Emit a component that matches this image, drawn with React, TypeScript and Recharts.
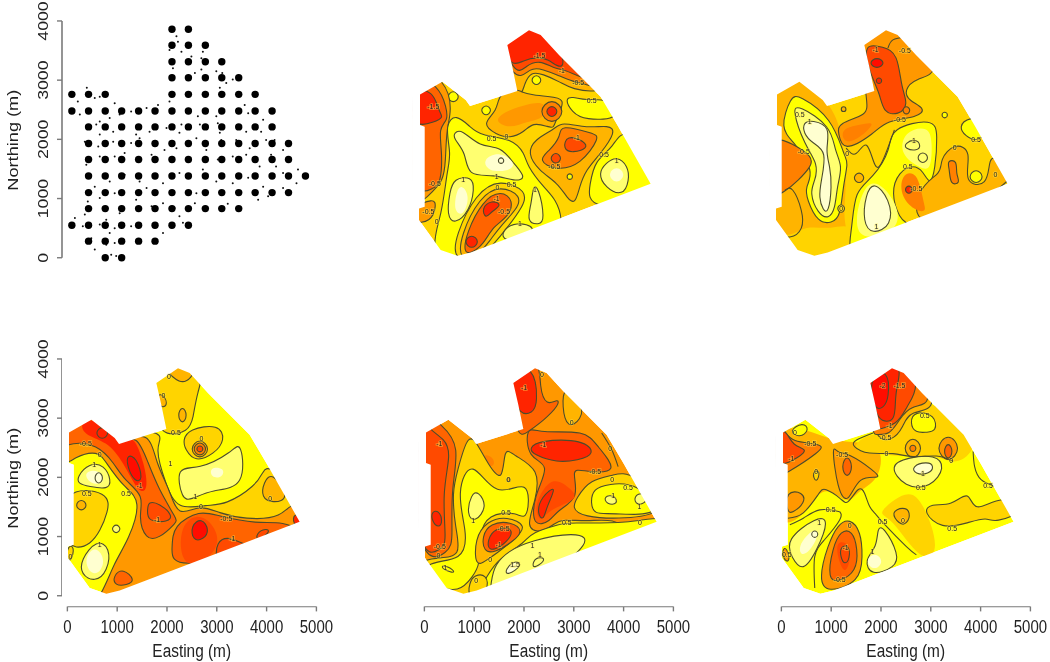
import { ScatterChart, Scatter, XAxis, YAxis, ReferenceLine } from 'recharts'

type Pt = [number, number]
type Band = [number, number, Pt[]]
type Note = [number, number, string]

const eastTicks = [0, 1000, 2000, 3000, 4000, 5000]
const northTicks = [0, 1000, 2000, 3000, 4000]

// colour of the surface per predicted level
const heat: Record<string, string> = {
  '-2': '#ff0c00',
  '-1.5': '#ff2400',
  '-1': '#ff4a00',
  '-0.75': '#ff6400',
  '-0.5': '#ff8000',
  '-0.25': '#ff9800',
  '0': '#ffb400',
  '0.25': '#ffd400',
  '0.5': '#ffff00',
  '1': '#ffff70',
  '1.5': '#ffffd0',
}

const siteRows: [number, number[]][] = [
  [3860, [2100, 2430]],
  [3590, [2100, 2430, 2770]],
  [3310, [2100, 2430, 2770, 3100]],
  [3040, [2100, 2430, 2770, 3100, 3440]],
  [2760, [90, 425, 760, 2100, 2430, 2770, 3100, 3440, 3770]],
  [2480, [90, 425, 760, 1090, 1430, 1760, 2100, 2430, 2770, 3100, 3440, 3770, 4110]],
  [2210, [425, 760, 1090, 1430, 1760, 2100, 2430, 2770, 3100, 3440, 3770, 4110]],
  [1930, [425, 760, 1090, 1430, 1760, 2100, 2430, 2770, 3100, 3440, 3770, 4110, 4440]],
  [1660, [425, 760, 1090, 1430, 1760, 2100, 2430, 2770, 3100, 3440, 3770, 4110, 4440]],
  [1380, [425, 760, 1090, 1430, 1760, 2100, 2430, 2770, 3100, 3440, 3770, 4110, 4440, 4780]],
  [1100, [425, 760, 1090, 1430, 1760, 2100, 2430, 2770, 3100, 3440, 3770, 4110, 4440]],
  [830, [425, 760, 1090, 1430, 1760, 2100, 2430, 2770, 3100, 3440]],
  [550, [90, 425, 760, 1090, 1430, 1760, 2100, 2430]],
  [280, [425, 760, 1090, 1430, 1760]],
  [0, [760, 1090]],
]

const transectPoints: Pt[] = [
  [2190, 3740], [2220, 3650], [2290, 3480], [2050, 3510], [2490, 3400], [2390, 3290], [2720, 3480], [2690, 3370],
  [2120, 3200], [2560, 3120], [2690, 3180], [2990, 3150], [3110, 3120], [3190, 2950], [3060, 2870], [3320, 3010],
  [210, 2640], [390, 2870], [550, 2700], [650, 2720], [950, 2610], [780, 2500], [250, 2420], [650, 2300],
  [850, 2360], [1050, 2420], [1280, 2470], [1590, 2530], [1820, 2580], [2050, 2640], [580, 2250], [650, 2080],
  [920, 2130], [1380, 2080], [1650, 2130], [1990, 2190], [2290, 2250], [2620, 2390], [2660, 2250], [2990, 2390],
  [3020, 2270], [3560, 2580], [3630, 2440], [3930, 2330], [3890, 2130], [3590, 2130], [350, 1960], [620, 1880],
  [920, 1960], [1280, 1940], [1450, 2020], [2250, 2110], [2590, 2020], [3060, 2110], [3090, 1990], [3390, 1990],
  [3660, 1850], [3990, 1990], [4160, 1990], [4330, 1820], [4090, 1740], [380, 1570], [650, 1710], [950, 1710],
  [1150, 1770], [1690, 1740], [1950, 1820], [2190, 1850], [2790, 1820], [3020, 1660], [3320, 1710], [3590, 1740],
  [3860, 1540], [4190, 1540], [4630, 1490], [4330, 1430], [550, 1200], [850, 1290], [1150, 1400], [1450, 1290],
  [1790, 1400], [2250, 1430], [2720, 1490], [2990, 1290], [3320, 1260], [3630, 1350], [3930, 1200], [3830, 980],
  [4030, 1040], [4330, 1180], [4600, 1260], [4830, 1370], [410, 950], [650, 1010], [950, 1090], [1380, 980],
  [1590, 1180], [1920, 1260], [2590, 1090], [2560, 920], [3220, 910], [2250, 700], [150, 670], [350, 730],
  [780, 640], [1050, 750], [1690, 870], [1920, 920], [2150, 840], [310, 530], [650, 560], [950, 500],
  [1280, 530], [1790, 530], [1920, 420], [2320, 590], [480, 330], [850, 420], [550, 140], [780, 220],
  [950, 250], [1380, 280], [880, 50], [980, 30],
]

const surveyFrame: Pt[] = [[-108, -180], [5100, -180], [5100, 4050], [-108, 4050]]

const surveyOutline: Pt[] = [
  [13, 636], [13, 833], [127, 861], [127, 2213], [33, 2241], [33, 2759], [482, 2973], [950, 2663], [1037, 2562],
  [1987, 2815], [1886, 3226], [1786, 3592], [2221, 3845], [2455, 3761], [2823, 3423], [3659, 2719], [3994, 2241],
  [4663, 1250], [1050, 90], [783, 34], [448, 129],
]

const p2Bands: Band[] = [
  [0, 1, [[1640, 3900], [2780, 3900], [3650, 3060], [3580, 2830], [3110, 2860], [2840, 2970], [2510, 3090], [2270, 3110], [2140, 2940], [2070, 2800], [1900, 2800]]],
  [-0.5, 1, [[1640, 3900], [2780, 3900], [3650, 2940], [3380, 2940], [3110, 2980], [2780, 3090], [2510, 3170], [2240, 3200], [1940, 3060]]],
  [-1, 1, [[1710, 3900], [2710, 3900], [3380, 3110], [3180, 3090], [2940, 3170], [2710, 3210], [2440, 3310], [2170, 3250], [1940, 3170]]],
  [-1.5, 1, [[1770, 3900], [2580, 3900], [2910, 3310], [2780, 3250], [2610, 3340], [2370, 3380], [2110, 3330], [1910, 3280], [1710, 3510]]],
  [0.5, 1, [[2980, 2660], [3110, 2710], [3380, 2660], [3780, 2660], [3980, 2380], [3380, 2350], [3110, 2470]]],
  [0, 1, [[1640, 2750], [1970, 2830], [2070, 2800], [2310, 2750], [2580, 2720], [2910, 2660], [2780, 2380], [2710, 2210], [2580, 2220], [2310, 2260], [2110, 2130], [1840, 2040], [1570, 2100], [1340, 2270], [1570, 2490]]],
  [-0.25, 0, [[1570, 2330], [1840, 2490], [2170, 2580], [2510, 2610], [2510, 2380], [2170, 2300], [1840, 2210]]],
  [-0.5, 1, [[2380, 2470], [2680, 2720], [2980, 2470], [2680, 2220]]],
  [-1.5, 1, [[2530, 2470], [2680, 2595], [2830, 2470], [2680, 2345]]],
  [0.5, 1, [[550, 2720], [700, 2845], [850, 2720], [700, 2595]]],
  [0.5, 1, [[1230, 2490], [1360, 2600], [1490, 2490], [1360, 2380]]],
  [0.5, 1, [[2240, 3000], [2370, 3110], [2500, 3000], [2370, 2890]]],
  [-0.25, 1, [[-100, 3000], [500, 2940], [640, 2490], [570, 2160], [540, 1650], [470, 1310], [200, 1090], [-100, 1090]]],
  [-0.75, 1, [[-100, 2880], [370, 2860], [540, 2550], [570, 2330], [430, 2160], [470, 1760], [430, 1310], [270, 1200], [-100, 1260]]],
  [-1.5, 1, [[-100, 2780], [270, 2780], [400, 2490], [470, 2380], [300, 2300], [-100, 2270]]],
  [-0.25, 1, [[-100, 830], [270, 970], [330, 860], [230, 640], [-100, 610]]],
  [0, 1, [[2710, 2160], [2910, 2270], [3380, 2200], [3780, 2220], [3910, 2100], [3650, 1760], [3380, 1480], [3240, 1200], [3140, 950], [2980, 1030], [2780, 1260], [2440, 1480], [2240, 1760], [2370, 1990]]],
  [-0.5, 1, [[2910, 2210], [3450, 2100], [3580, 2000], [3240, 1610], [2780, 1510], [2470, 1650], [2640, 1820], [2840, 2040]]],
  [-1, 1, [[3010, 2040], [3310, 1960], [3350, 1850], [3110, 1790], [2940, 1850]]],
  [-1, 1, [[2620, 1680], [2760, 1800], [2900, 1680], [2760, 1560]]],
  [0.5, 1, [[2960, 1370], [3040, 1440], [3120, 1370], [3040, 1300]]],
  [0.5, 1, [[570, 2210], [770, 2380], [1040, 2210], [1300, 2070], [1840, 1990], [2110, 1760], [2210, 1540], [2510, 1200], [2740, 970], [2840, 640], [2580, 300], [840, -150], [330, 190], [470, 750], [570, 1420], [640, 1760]]],
  [0.5, 1, [[4180, 2130], [3910, 1870], [3580, 1620], [3480, 1260], [3580, 860], [4980, 1090], [4850, 1760]]],
  [1, 1, [[3980, 1680], [4180, 1540], [4210, 1310], [4080, 1090], [3780, 1200], [3650, 1420], [3780, 1590]]],
  [1.5, 0, [[3780, 1400], [3980, 1570], [4180, 1400], [3980, 1230]]],
  [1, 1, [[740, 2100], [900, 2130], [1240, 1900], [1640, 1850], [1910, 1590], [2110, 1370], [1910, 1310], [1510, 1400], [1040, 1420], [940, 1760], [740, 1990]]],
  [1.5, 0, [[1340, 1650], [1640, 1760], [1910, 1590], [1770, 1480], [1440, 1480]]],
  [1.5, 1, [[1580, 1640], [1660, 1710], [1740, 1640], [1660, 1570]]],
  [1, 1, [[740, 1310], [1040, 1340], [1100, 1140], [1000, 810], [740, 610], [600, 750], [640, 1090]]],
  [1.5, 0, [[870, 1200], [1000, 1030], [900, 750], [740, 810], [770, 1090]]],
  [0.25, 1, [[770, 20], [800, 410], [1170, 1030], [1640, 1270], [2110, 1110], [2070, 860], [1770, 500], [1510, 240], [1170, -10]]],
  [0, 1, [[870, 20], [900, 410], [1240, 970], [1640, 1170], [2010, 1030], [1940, 810], [1640, 520], [1440, 300], [1170, 50]]],
  [-0.75, 1, [[940, 130], [1000, 440], [1300, 920], [1640, 1090], [1870, 950], [1770, 690], [1510, 520], [1300, 240], [1070, 100]]],
  [-1.5, 1, [[1300, 830], [1470, 950], [1640, 890], [1470, 780], [1360, 690]]],
  [-1.5, 1, [[900, 270], [1070, 410], [1240, 270], [1070, 130]]],
  [1, 1, [[2310, 1170], [2410, 1140], [2510, 690], [2410, 580], [2210, 640], [2270, 920]]],
  [1, 1, [[1710, 440], [1970, 580], [2310, 500], [2110, 350], [1770, 300]]],
]

const p2Notes: Note[] = [
  [2430, 3420, '-1.5'], [2880, 3160, '-1'], [3210, 2960, '-0.5'], [3480, 2650, '0.5'], [300, 2560, '-1.5'],
  [330, 1260, '-0.5'], [200, 780, '-0.5'], [370, 620, '0'], [1470, 2020, '0.5'], [1770, 2050, '0'], [1570, 1380, '1'],
  [1870, 1230, '0.5'], [1590, 1190, '0'], [1570, 1000, '-1'], [1720, 780, '-0.5'], [3180, 2030, '-1'],
  [2730, 1540, '-0.5'], [3730, 1750, '0.5'], [3980, 1650, '1'], [2340, 1150, '1'], [2040, 580, '1'], [900, 1320, '1'],
]

const p3Bands: Band[] = [
  [0, 0, [[-100, 3000], [560, 3000], [1090, 2550], [1290, 2160], [1360, 1760], [1420, 1200], [1360, 640], [1420, 190], [620, -40], [-100, 410]]],
  [0.25, 0, [[-100, 420], [290, 360], [620, 520], [1100, 480], [1560, 520], [1560, -100], [620, -120], [-100, 100]]],
  [0.5, 1, [[150, 2210], [320, 2660], [520, 2690], [1090, 2330], [1360, 1760], [1440, 1590], [1360, 1200], [1290, 750], [1120, 610], [860, 640], [660, 970], [620, 1200], [720, 1480], [390, 1930]]],
  [1, 1, [[390, 2440], [520, 2520], [1060, 2210], [1190, 1820], [1320, 1540], [1240, 1200], [1190, 860], [1060, 690], [860, 780], [720, 1090], [790, 1310], [820, 1590], [590, 1930]]],
  [1.5, 1, [[590, 2270], [760, 2300], [1060, 2180], [1020, 1820], [1090, 1540], [1120, 1200], [1060, 810], [960, 830], [890, 1030], [920, 1310], [990, 1760], [760, 1930], [590, 2100]]],
  [-0.5, 1, [[-100, 1960], [350, 1900], [690, 1710], [690, 1540], [450, 1310], [190, 1140], [-100, 1110]]],
  [-0.25, 1, [[1760, 3900], [2630, 3900], [3230, 3200], [2830, 3030], [2630, 2830], [2700, 2660], [2960, 2520], [2800, 2380], [2260, 2300], [1960, 2100], [1420, 1850], [1290, 2100], [1320, 2270], [1790, 2440], [1830, 2750]]],
  [-0.5, 0, [[1360, 2160], [1690, 2240], [1960, 2270], [1690, 2040], [1420, 1960]]],
  [-1, 1, [[1830, 3560], [2160, 3540], [2430, 3400], [2530, 2890], [2630, 2610], [2460, 2440], [2190, 2490], [2090, 2780], [1890, 3170]]],
  [-2, 1, [[1860, 3290], [2040, 3400], [2220, 3290], [2040, 3180]]],
  [-1.5, 1, [[2000, 2990], [2080, 3060], [2160, 2990], [2080, 2920]]],
  [-0.5, 1, [[2530, 2490], [2630, 2580], [2730, 2490], [2630, 2400]]],
  [0, 1, [[1300, 2510], [1370, 2570], [1440, 2510], [1370, 2450]]],
  [0.5, 1, [[3320, 2410], [3400, 2480], [3480, 2410], [3400, 2340]]],
  [0.5, 1, [[1630, 1090], [1960, 1370], [2290, 1820], [2390, 2160], [3100, 2300], [3230, 2040], [3200, 1540], [3100, 1280], [2960, 1450], [2760, 1540], [2500, 1420], [2360, 1090], [2500, 690], [2630, 580], [2630, 410], [1560, -40], [1560, 520]]],
  [1, 0, [[1890, 1300], [2360, 970], [2430, 520], [1830, 350], [1630, 640]]],
  [1.5, 1, [[1990, 1230], [2260, 970], [2290, 580], [1960, 440], [1790, 640], [1830, 1030]]],
  [1, 0, [[2560, 1760], [2630, 2100], [3030, 2180], [3130, 1930], [3100, 1540], [2900, 1540]]],
  [1, 1, [[2630, 1930], [2800, 1990], [2900, 1900], [2830, 1820], [2630, 1850]]],
  [1, 1, [[2820, 1690], [2960, 1810], [3100, 1690], [2960, 1570]]],
  [0.5, 1, [[3730, 2210], [3900, 2350], [4370, 2330], [4100, 1990], [3830, 2070]]],
  [0, 1, [[3300, 1420], [3330, 1650], [3600, 1890], [3900, 1760], [3830, 1310], [4230, 1260], [4300, 1650], [4500, 1650], [4840, 1370], [3030, 520], [2900, 1140]]],
  [-0.5, 1, [[3470, 1620], [3630, 1620], [3630, 1420], [3690, 1280], [3530, 1260], [3500, 1480]]],
  [0.5, 1, [[3850, 1370], [4030, 1520], [4210, 1370], [4030, 1220]]],
  [-0.5, 0, [[2560, 1370], [2830, 1400], [2960, 970], [3000, 810], [2830, 810], [2560, 1030]]],
  [-1.5, 1, [[2580, 1150], [2680, 1240], [2780, 1150], [2680, 1060]]],
  [0, 1, [[1540, 1350], [1680, 1470], [1820, 1350], [1680, 1230]]],
  [0.25, 1, [[1220, 830], [1320, 920], [1420, 830], [1320, 740]]],
]

const p3Lines: Pt[][] = [
  [[-100, 400], [290, 350], [520, 500], [520, 800], [350, 1140], [190, 1140]],
  [[2260, 3540], [2360, 3680], [2630, 3730]],
  [[1420, 1850], [1620, 1760], [1830, 1900], [2000, 1570], [2160, 1650], [2390, 2160]],
]

const p3Notes: Note[] = [
  [2010, 3510, '-1'], [2600, 3500, '-0.5'], [490, 2420, '0.5'], [690, 2300, '1'], [570, 1790, '-0.5'], [1440, 1760, '0'],
  [2500, 2340, '-0.5'], [2780, 1980, '1'], [2660, 1540, '0.5'], [2830, 1170, '-0.5'], [3600, 1870, '0'],
  [4030, 2000, '0.5'], [4420, 1400, '0'], [1320, 830, '0'], [2030, 520, '1'],
]

const p4Bands: Band[] = [
  [0.25, 1, [[1590, 3930], [2660, 3930], [2590, 3420], [2520, 3030], [2390, 2800], [1990, 2750], [1790, 3030]]],
  [0.25, 1, [[2490, 2800], [2990, 2860], [3120, 2630], [2920, 2410], [2590, 2300], [2390, 2470], [2350, 2630]]],
  [0, 1, [[2430, 2480], [2660, 2680], [2890, 2480], [2660, 2280]]],
  [-0.5, 1, [[2490, 2480], [2660, 2630], [2830, 2480], [2660, 2330]]],
  [-1, 1, [[2570, 2480], [2660, 2555], [2750, 2480], [2660, 2405]]],
  [0, 1, [[1990, 3820], [2250, 3620], [2460, 3680], [2590, 3980], [1990, 3980]]],
  [0, 1, [[1790, 3420], [1950, 3390], [2020, 3200], [1850, 3170]]],
  [0, 1, [[2200, 3050], [2310, 3220], [2420, 3050], [2310, 2880]]],
  [0.25, 1, [[1890, 2690], [1790, 2470], [1990, 1900], [2250, 1510], [2790, 1540], [3190, 1570], [3730, 1850], [3930, 2070], [4100, 2100], [4700, 1300], [920, -120], [1500, 600], [1800, 1500], [1500, 2300], [1500, 2750]]],
  [-0.25, 1, [[-100, 2860], [520, 3030], [1050, 2630], [1590, 2720], [1790, 2240], [2050, 1790], [2250, 1400], [2660, 1510], [3060, 1400], [3590, 1310], [4260, 1340], [4530, 1570], [4860, 1280], [920, -120], [750, 50], [950, 550], [1220, 970], [1420, 1570], [1120, 1850], [780, 2240], [580, 2410], [180, 2350], [-100, 2240]]],
  [-0.75, 1, [[-100, 2860], [520, 3030], [1050, 2630], [1380, 2660], [1620, 2240], [1850, 1790], [2150, 1340], [2150, 1230], [1850, 1000], [1590, 1000], [1450, 1340], [1490, 1680], [1150, 1960], [920, 2240], [580, 2520], [110, 2580], [-100, 2520]]],
  [-1.5, 0, [[310, 2920], [650, 2940], [1050, 2630], [1320, 2660], [1520, 2240], [1590, 1850], [1420, 1790], [1120, 2240], [780, 2580], [380, 2720]]],
  [-2, 1, [[1220, 2350], [1380, 2300], [1490, 1990], [1350, 1960], [1220, 2180]]],
  [-1.5, 1, [[540, 2750], [700, 2885], [860, 2750], [700, 2615]]],
  [-1, 1, [[1650, 1570], [1850, 1540], [2070, 1370], [1990, 1260], [1650, 1280], [1620, 1450]]],
  [-0.75, 1, [[2190, 1170], [2660, 1400], [3060, 1340], [3790, 1230], [4260, 1230], [4530, 1000], [2390, 500], [2150, 830]]],
  [-1, 0, [[2290, 1090], [2590, 1340], [2920, 1170], [2990, 780], [2390, 500]]],
  [-2, 1, [[2510, 1170], [2690, 1280], [2820, 1110], [2720, 970], [2540, 960]]],
  [-1, 1, [[3020, 890], [3260, 970], [3460, 890], [3590, 830], [3300, 500], [3020, 560]]],
  [-1, 1, [[3790, 1060], [3990, 1140], [4090, 1090], [3800, 900]]],
  [-1.5, 1, [[4530, 1400], [4800, 1350], [4700, 1150], [4530, 1200]]],
  [-0.75, 1, [[950, 330], [1120, 430], [1320, 270], [1180, 190], [980, 190]]],
  [1, 1, [[2250, 2130], [2660, 2160], [3260, 2410], [3460, 2520], [3490, 1900], [2920, 1790], [2520, 1650], [2320, 1680]]],
  [1.5, 0, [[2860, 2180], [3160, 2160], [3120, 1990], [2880, 1990]]],
  [1, 1, [[230, 2020], [450, 2210], [720, 2180], [850, 1960], [780, 1820], [450, 1850], [250, 1900]]],
  [1.5, 0, [[310, 2100], [650, 2140], [780, 1900], [450, 1870]]],
  [1.5, 1, [[520, 1990], [630, 2120], [740, 1990], [630, 1860]]],
  [0.25, 1, [[-20, 1730], [750, 1710], [780, 1400], [650, 1110], [450, 890], [180, 830], [-20, 1000]]],
  [0, 1, [[140, 1530], [280, 1650], [420, 1530], [280, 1410]]],
  [1, 1, [[310, 610], [580, 890], [820, 780], [780, 440], [550, 270], [310, 380]]],
  [1.5, 0, [[300, 580], [550, 880], [800, 580], [550, 280]]],
  [1, 1, [[870, 1130], [980, 1225], [1090, 1130], [980, 1035]]],
  [0, 1, [[3930, 1680], [3960, 1900], [4130, 2030], [4400, 1680], [4130, 1590]]],
  [0.25, 1, [[10, 860], [150, 830], [80, 580], [-20, 610]]],
]

const p4Notes: Note[] = [
  [2040, 3700, '0'], [1930, 3390, '0'], [2180, 2760, '0.5'], [2690, 2650, '0'], [370, 2570, '-0.5'], [650, 2380, '0'],
  [540, 2210, '1'], [2070, 2240, '1'], [390, 1730, '0.5'], [1180, 1730, '0.5'], [1450, 1860, '-1'], [2570, 1680, '1'],
  [2680, 1510, '0'], [3190, 1310, '-0.5'], [1800, 1280, '-1'], [3310, 970, '-1'], [4070, 1640, '0'], [650, 860, '1'],
  [60, 660, '0'],
]

const p5Bands: Band[] = [
  [0, 1, [[2790, 3390], [2820, 2990], [2990, 2890], [3190, 3140], [2920, 3420]]],
  [-0.75, 1, [[1720, 3930], [2260, 3930], [2320, 3540], [2460, 3250], [2660, 3310], [2660, 3200], [2390, 2970], [2090, 2800], [1850, 2800]]],
  [-1.5, 1, [[1720, 3820], [2150, 3820], [2250, 3310], [2150, 3110], [1920, 3110], [1790, 3420]]],
  [-0.75, 1, [[2090, 2800], [2390, 2750], [3160, 2760], [3460, 2520], [3800, 2130], [3260, 2100], [2990, 2100], [3060, 1680], [2690, 1450], [2520, 1280], [2220, 1230], [2220, 1680], [2460, 2180], [2120, 2350]]],
  [-1.5, 1, [[2150, 2490], [2390, 2610], [3120, 2610], [3360, 2410], [3060, 2300], [2660, 2270], [2250, 2380]]],
  [-1, 0, [[2250, 1450], [2320, 1680], [2590, 1960], [2930, 1790], [3000, 1620], [2520, 1450], [2350, 1280]]],
  [-1.5, 1, [[2290, 1400], [2360, 1650], [2620, 1820], [2460, 1510], [2390, 1310]]],
  [-0.5, 0, [[1150, 2410], [1390, 2350], [1420, 2180], [1220, 2180]]],
  [-0.75, 1, [[-100, 2860], [350, 2830], [650, 2470], [550, 1790], [550, 1060], [450, 780], [-100, 810]]],
  [-1, 1, [[-100, 2800], [110, 2780], [380, 2630], [500, 2350], [380, 1730], [420, 1000], [310, 830], [-100, 890]]],
  [-1.5, 1, [[160, 1400], [280, 1420], [350, 1260], [280, 1170], [170, 1260]]],
  [0.25, 1, [[-90, 550], [280, 640], [680, 720], [620, 1170], [580, 1730], [680, 2130], [880, 2660], [1080, 2520], [1280, 2240], [1550, 1990], [1620, 2440], [1820, 2350], [2250, 2100], [2220, 1620], [2090, 1200], [2320, 1090], [2590, 1200], [2790, 1280], [3260, 1260], [3790, 1280], [4130, 1140], [4730, 1280], [4730, 780], [850, -120], [50, 210]]],
  [0.5, 1, [[700, 1730], [980, 2210], [1450, 1710], [2040, 1910], [2040, 1340], [1820, 1400], [1320, 1340], [1120, 1000], [1100, 550], [950, 330], [680, 100], [180, 210], [50, 550], [720, 640], [820, 1110]]],
  [1, 1, [[880, 1400], [950, 1680], [1080, 1730], [1220, 1510], [1020, 1280]]],
  [0.5, 1, [[1990, 890], [2190, 1060], [2720, 1200], [2990, 1230], [4060, 1230], [4730, 1310], [4860, 1000], [1380, -70], [1350, 380], [1520, 610]]],
  [1, 1, [[1380, 270], [1450, 520], [1720, 750], [2190, 920], [2920, 1030], [3220, 810], [1520, -120]]],
  [1.5, 1, [[1620, 440], [1820, 610], [1990, 520], [1650, 330]]],
  [1, 1, [[2150, 470], [2220, 660], [2460, 640], [2290, 500]]],
  [0, 1, [[1050, 550], [1050, 950], [1280, 1230], [1650, 1310], [1990, 1170], [1790, 950], [1450, 720], [1250, 610]]],
  [-0.75, 1, [[1220, 780], [1190, 1000], [1350, 1200], [1720, 1230], [1930, 1090], [1760, 920], [1420, 750]]],
  [-1.5, 1, [[1280, 830], [1350, 1060], [1580, 1140], [1750, 1090], [1650, 920], [1420, 790]]],
  [0.25, 1, [[3120, 1680], [3360, 1930], [3790, 2020], [4190, 2020], [4860, 1400], [3120, 1340]]],
  [0.5, 1, [[3430, 1790], [3730, 1870], [4260, 1850], [4670, 1400], [3790, 1400], [3460, 1400], [3360, 1570]]],
  [1, 1, [[3590, 1680], [3830, 1710], [3890, 1540], [3660, 1540]]],
  [1, 1, [[4190, 1680], [4400, 1760], [4500, 1590], [4260, 1510]]],
  [0.5, 1, [[310, 510], [480, 500], [650, 380], [450, 410]]],
  [0.25, 1, [[920, 210], [1020, 330], [1220, 330], [1250, 100], [920, -10]]],
  [0, 1, [[1640, 1960], [1690, 2010], [1740, 1960], [1690, 1910]]],
]

const p5Lines: Pt[][] = [
  [[3560, 2750], [3760, 2470], [3890, 2180]],
]

const p5Notes: Note[] = [
  [2360, 3730, '0'], [2000, 3510, '-1'], [2960, 2930, '0'], [2390, 2550, '-1'], [3730, 2480, '0'], [3430, 2100, '-0.5'],
  [3770, 1970, '0'], [4090, 1830, '0.5'], [1690, 1960, '0'], [3790, 1690, '1'], [4320, 1510, '1'], [300, 2580, '-1'],
  [1640, 1410, '0.5'], [2860, 1240, '0.5'], [4330, 1230, '0'], [1590, 1130, '-0.5'], [1490, 860, '-1'], [310, 830, '-0.5'],
  [280, 680, '0'], [1320, 620, '0'], [2170, 850, '1'], [1820, 520, '1.5'], [2320, 690, '1'], [420, 470, '1'],
  [1040, 260, '0'], [980, 1270, '1'],
]

const p6Bands: Band[] = [
  [0, 0, [[-100, 2880], [1040, 2560], [1910, 2580], [1940, 2020], [1570, 1790], [1340, 1590], [1000, 1760], [740, 1710], [440, 1400], [-100, 1280]]],
  [0.25, 0, [[2510, 1730], [2840, 1510], [3110, 830], [2780, 660], [2240, 1280], [2000, 1400]]],
  [0.25, 0, [[1840, 2750], [1470, 2520], [1770, 2410], [2640, 2350], [3110, 2360], [3540, 2250], [3900, 2600], [3540, 2960], [3080, 3230], [2610, 3110], [2440, 2860], [2210, 2660]]],
  [0, 1, [[1770, 3930], [2510, 3930], [3080, 3230], [2610, 3110], [2440, 2860], [2210, 2660], [1840, 2800]]],
  [-0.5, 1, [[1770, 3930], [2510, 3930], [2980, 3310], [2610, 3200], [2370, 2970], [2170, 2750], [1910, 2750], [1840, 2860]]],
  [-1, 1, [[1770, 3930], [2440, 3930], [2710, 3540], [2510, 3200], [2310, 2920], [1910, 2830], [1940, 3000]]],
  [-1.5, 1, [[1770, 3930], [2380, 3930], [2270, 3420], [2270, 3000], [1940, 3000], [1810, 3480]]],
  [-2, 1, [[1810, 3650], [2110, 3760], [2140, 3370], [2040, 3200], [1870, 3200]]],
  [0.5, 1, [[2610, 2920], [2710, 3090], [3050, 3030], [3080, 2800], [2910, 2770], [2710, 2770]]],
  [0, 1, [[2410, 2490], [2640, 2720], [2870, 2490], [2640, 2260]]],
  [-0.5, 1, [[2550, 2490], [2640, 2570], [2730, 2490], [2640, 2410]]],
  [-0.25, 1, [[3070, 2490], [3350, 2770], [3630, 2490], [3350, 2210]]],
  [-0.75, 1, [[3240, 2440], [3350, 2610], [3460, 2440], [3350, 2270]]],
  [-0.25, 1, [[1140, 2410], [1370, 2380], [1810, 2130], [1940, 1990], [1570, 1990], [1340, 1620], [1140, 1850], [1040, 2470]]],
  [-0.75, 1, [[1190, 2180], [1320, 2400], [1450, 2180], [1320, 1960]]],
  [-0.5, 1, [[-100, 2800], [70, 2780], [240, 2610], [770, 2550], [700, 2410], [130, 2100], [-100, 2100]]],
  [-1, 1, [[-100, 2750], [100, 2750], [240, 2550], [470, 2470], [330, 2350], [-100, 2210]]],
  [0.5, 1, [[130, 2780], [440, 2940], [570, 2800], [370, 2660]]],
  [-0.25, 1, [[130, 1730], [400, 1730], [440, 1570], [230, 1420], [130, 1450]]],
  [0.25, 1, [[600, 2100], [800, 2130], [700, 1870]]],
  [1, 1, [[2240, 2180], [2580, 2320], [3040, 2350], [3230, 2160], [2970, 1870], [2510, 1870]]],
  [1.5, 1, [[2660, 2180], [2910, 2250], [3040, 2180], [2940, 2070], [2710, 2070]]],
  [1, 1, [[170, 950], [670, 1280], [900, 1230], [700, 780], [440, 470], [230, 660]]],
  [1.5, 0, [[300, 830], [670, 1170], [770, 1000], [440, 610]]],
  [1.5, 1, [[580, 1040], [670, 1120], [760, 1040], [670, 960]]],
  [-0.25, 1, [[940, 830], [1140, 1170], [1370, 1260], [1570, 1060], [1610, 660], [1510, 270], [970, 100], [800, 330]]],
  [-0.75, 1, [[1040, 780], [1200, 1060], [1410, 1060], [1510, 780], [1470, 440], [1170, 270], [970, 330]]],
  [-1, 0, [[1140, 660], [1140, 890], [1340, 860], [1370, 610], [1270, 410]]],
  [-1, 1, [[1200, 810], [1340, 830], [1360, 640], [1270, 550], [1200, 660]]],
  [1, 1, [[1940, 1110], [2070, 1110], [2310, 720], [2240, 500], [1840, 380], [1710, 610], [1900, 830]]],
  [1.5, 0, [[1670, 580], [1870, 750], [2070, 580], [1870, 410]]],
  [0.25, 1, [[4420, 1660], [3910, 1450], [3750, 1730], [3410, 1540], [3040, 1540], [2910, 1400], [3240, 1170], [3710, 1230], [4110, 1310], [4310, 1260], [4850, 1450]]],
  [0, 1, [[2240, 1400], [2440, 1480], [2570, 1400], [2510, 1230], [2370, 1230]]],
  [-0.25, 1, [[30, 830], [130, 780], [170, 550], [30, 610]]],
]

const p6Lines: Pt[][] = [
  [[130, 1310], [440, 1400], [740, 1710], [900, 1790], [1170, 1650], [1340, 1590], [1540, 1790], [1670, 1730], [1770, 1510], [1900, 1370], [2110, 1170], [2510, 830], [2710, 690]],
  [[1840, 2750], [1510, 2630], [1470, 2520], [1770, 2410], [2240, 2400], [2640, 2350], [3110, 2360], [3450, 2270]],
  [[1170, 1420], [1170, 1280], [870, 950], [670, 660], [670, 130]],
  [[170, 1200], [440, 1310], [770, 1450], [1170, 1420]],
  [[3850, 2440], [3880, 2180], [4010, 1960], [4280, 1850]],
]

const p6Notes: Note[] = [
  [2030, 3560, '-2'], [2370, 3560, '-1.5'], [2170, 2870, '-1'], [2090, 2680, '-0.5'], [2880, 3040, '0.5'], [270, 2760, '0'],
  [580, 2580, '-0.5'], [200, 2310, '-1'], [1220, 2390, '-0.5'], [2110, 2400, '0'], [3410, 2290, '0'], [700, 2100, '0'],
  [2840, 2070, '1'], [2800, 1830, '0.5'], [4150, 1860, '0.5'], [990, 1460, '0.5'], [2440, 1270, '0'], [2030, 1260, '0.5'],
  [760, 1240, '1'], [3430, 1130, '0.5'], [1370, 1180, '0'], [1830, 740, '1'], [1290, 810, '-1'], [110, 690, '0.5'],
  [1170, 270, '-0.5'],
]

const FONT = '"Liberation Sans", Arial, sans-serif'
const AXIS_COLOR = '#7a7a7a'
const CONTOUR_COLOR = '#4c4c2c'
const PLOT_W = 259.4
const PLOT_H = 250.4
const GUTTER_LEFT = 60
const GUTTER_BOTTOM = 60
const GUTTER_TOP = 20
const GUTTER_RIGHT = 25

const toRows = (pts: Pt[]) => pts.map(([x, y]) => ({ x, y }))
const noDot = () => <g />

// closed spline for the contours: runs close to its vertices, small rings stay round
function contourCurve(context: any) {
  let pts: Pt[] = []
  return {
    areaStart() {},
    areaEnd() {},
    lineStart() {
      pts = []
    },
    point(x: number, y: number) {
      pts.push([+x, +y])
    },
    lineEnd() {
      const n = pts.length
      const sharpen = n > 4 ? 0.33 : 0
      const q = pts.map((p, i) => {
        const a = pts[(i + n - 1) % n]
        const b = pts[(i + 1) % n]
        return [p[0] + sharpen * (p[0] - (a[0] + b[0]) / 2), p[1] + sharpen * (p[1] - (a[1] + b[1]) / 2)]
      })
      const on = (i: number) => {
        const a = q[(i + n - 1) % n]
        const p = q[i % n]
        const b = q[(i + 1) % n]
        return [(a[0] + 4 * p[0] + b[0]) / 6, (a[1] + 4 * p[1] + b[1]) / 6]
      }
      const start = on(0)
      context.moveTo(start[0], start[1])
      for (let i = 0; i < n; i++) {
        const p = q[i]
        const b = q[(i + 1) % n]
        const end = on(i + 1)
        context.bezierCurveTo(
          (2 * p[0] + b[0]) / 3, (2 * p[1] + b[1]) / 3,
          (p[0] + 2 * b[0]) / 3, (p[1] + 2 * b[1]) / 3,
          end[0], end[1],
        )
      }
      context.closePath()
    },
  }
}

const SiteDot = ({ cx, cy }: any) => <circle cx={cx} cy={cy} r={3.7} fill="#000" />
const TransectDot = ({ cx, cy }: any) => <circle cx={cx} cy={cy} r={1} fill="#111" />

function EastTick({ x, y, payload }: any) {
  return (
    <text transform={`translate(${x},${y + 13}) scale(1,1.18)`} textAnchor="middle" dominantBaseline="central"
      fontFamily={FONT} fontSize={15} fill="#222">{payload.value}</text>
  )
}

function NorthTick({ x, y, payload }: any) {
  return (
    <text transform={`translate(${x - 12},${y}) rotate(-90) scale(1.18,1)`} textAnchor="middle" dominantBaseline="central"
      fontFamily={FONT} fontSize={15} fill="#222">{payload.value}</text>
  )
}

function EastTitle({ viewBox }: any) {
  return (
    <text transform={`translate(${viewBox.x + viewBox.width / 2},${viewBox.y + 45}) scale(1,1.18)`} textAnchor="middle"
      dominantBaseline="central" fontFamily={FONT} fontSize={15.4} fill="#222">Easting (m)</text>
  )
}

function NorthTitle({ viewBox }: any) {
  return (
    <text transform={`translate(${viewBox.x + 10.7},${viewBox.y + viewBox.height / 2 - 3}) rotate(-90) scale(1.18,1)`}
      textAnchor="middle" dominantBaseline="central" fontFamily={FONT} fontSize={15.4} fill="#222">Northing (m)</text>
  )
}

function NoteMark({ cx, cy, payload }: any) {
  return (
    <text x={cx} y={cy} textAnchor="middle" dominantBaseline="central" fontFamily={FONT} fontSize={7} fill="#222"
      stroke="rgba(255,235,90,0.45)" strokeWidth={1.6} paintOrder="stroke">{payload.text}</text>
  )
}

type PanelProps = {
  x0: number
  y0: number
  showEast?: boolean
  showNorth?: boolean
  base?: number
  bands?: Band[]
  lines?: Pt[][]
  notes?: Note[]
  sites?: boolean
}

function Panel({ x0, y0, showEast, showNorth, base, bands = [], lines = [], notes = [], sites }: PanelProps) {
  const left = x0 - 5.4 - GUTTER_LEFT
  const top = y0 - 239.8 - GUTTER_TOP
  const siteData = siteRows.flatMap(([y, xs]) => xs.map((x) => ({ x, y })))
  const maskPts = [...surveyFrame, surveyFrame[0], ...surveyOutline, surveyOutline[0]]

  return (
    <div style={{ position: 'absolute', left, top }}>
      <ScatterChart
        width={GUTTER_LEFT + PLOT_W + GUTTER_RIGHT}
        height={GUTTER_TOP + PLOT_H + GUTTER_BOTTOM}
        margin={{
          top: GUTTER_TOP,
          right: GUTTER_RIGHT,
          left: showNorth ? 0 : GUTTER_LEFT,
          bottom: showEast ? 0 : GUTTER_BOTTOM,
        }}
      >
        <XAxis
          type="number"
          dataKey="x"
          domain={[-108, 5100]}
          allowDataOverflow
          ticks={eastTicks}
          interval={0}
          hide={!showEast}
          height={GUTTER_BOTTOM}
          axisLine={false}
          tickLine={{ stroke: AXIS_COLOR, strokeWidth: 1.4 }}
          tickSize={5}
          tick={EastTick}
          label={<EastTitle />}
        />
        <YAxis
          type="number"
          dataKey="y"
          domain={[-180, 4050]}
          allowDataOverflow
          ticks={northTicks}
          interval={0}
          hide={!showNorth}
          width={GUTTER_LEFT}
          axisLine={false}
          tickLine={{ stroke: AXIS_COLOR, strokeWidth: 1.4 }}
          tickSize={5}
          tick={NorthTick}
          label={<NorthTitle />}
        />
        {base !== undefined && (
          <Scatter
            data={toRows(surveyOutline)}
            shape={noDot}
            fill={heat[String(base)]}
            line={{ fill: heat[String(base)], stroke: 'none' }}
            lineJointType="linearClosed"
            isAnimationActive={false}
          />
        )}
        {bands.map(([level, contour, pts], i) => (
          <Scatter
            key={`band${i}`}
            data={toRows(pts)}
            shape={noDot}
            fill={heat[String(level)]}
            line={{ fill: heat[String(level)], stroke: contour ? CONTOUR_COLOR : 'none', strokeWidth: 1.1 }}
            lineJointType={contourCurve as any}
            isAnimationActive={false}
          />
        ))}
        {lines.map((pts, i) => (
          <Scatter
            key={`line${i}`}
            data={toRows(pts)}
            shape={noDot}
            line={{ fill: 'none', stroke: CONTOUR_COLOR, strokeWidth: 1.1 }}
            lineJointType="natural"
            isAnimationActive={false}
          />
        ))}
        {base !== undefined && (
          <Scatter
            data={toRows(maskPts)}
            shape={noDot}
            fill="#fff"
            line={{ fill: '#fff', stroke: 'none' }}
            lineJointType="linearClosed"
            isAnimationActive={false}
          />
        )}
        {notes.length > 0 && (
          <Scatter
            data={notes.map(([x, y, text]) => ({ x, y, text }))}
            shape={NoteMark}
            isAnimationActive={false}
          />
        )}
        {sites && <Scatter data={toRows(transectPoints)} shape={TransectDot} isAnimationActive={false} />}
        {sites && <Scatter data={siteData} shape={SiteDot} isAnimationActive={false} />}
        {showEast && (
          <ReferenceLine segment={[{ x: 0, y: -180 }, { x: 5000, y: -180 }]} stroke={AXIS_COLOR} strokeWidth={1.6} ifOverflow="visible" />
        )}
        {showNorth && (
          <ReferenceLine segment={[{ x: -108, y: 0 }, { x: -108, y: 4000 }]} stroke={AXIS_COLOR} strokeWidth={1.6} ifOverflow="visible" />
        )}
      </ScatterChart>
    </div>
  )
}

export default function App() {
  return (
    <div style={{ position: 'absolute', left: 0, top: 0, width: 1050, height: 662, overflow: 'hidden', background: '#fff', filter: 'blur(0.35px)' }}>
      <Panel x0={67.7} y0={258} showNorth sites />
      <Panel x0={418.5} y0={257.7} base={0.25} bands={p2Bands} notes={p2Notes} />
      <Panel x0={775.7} y0={257.7} base={0.25} bands={p3Bands} lines={p3Lines} notes={p3Notes} />
      <Panel x0={67.7} y0={596} showEast showNorth base={0.5} bands={p4Bands} notes={p4Notes} />
      <Panel x0={424.3} y0={596} showEast base={-0.25} bands={p5Bands} lines={p5Lines} notes={p5Notes} />
      <Panel x0={781.7} y0={596} showEast base={0.5} bands={p6Bands} lines={p6Lines} notes={p6Notes} />
    </div>
  )
}
